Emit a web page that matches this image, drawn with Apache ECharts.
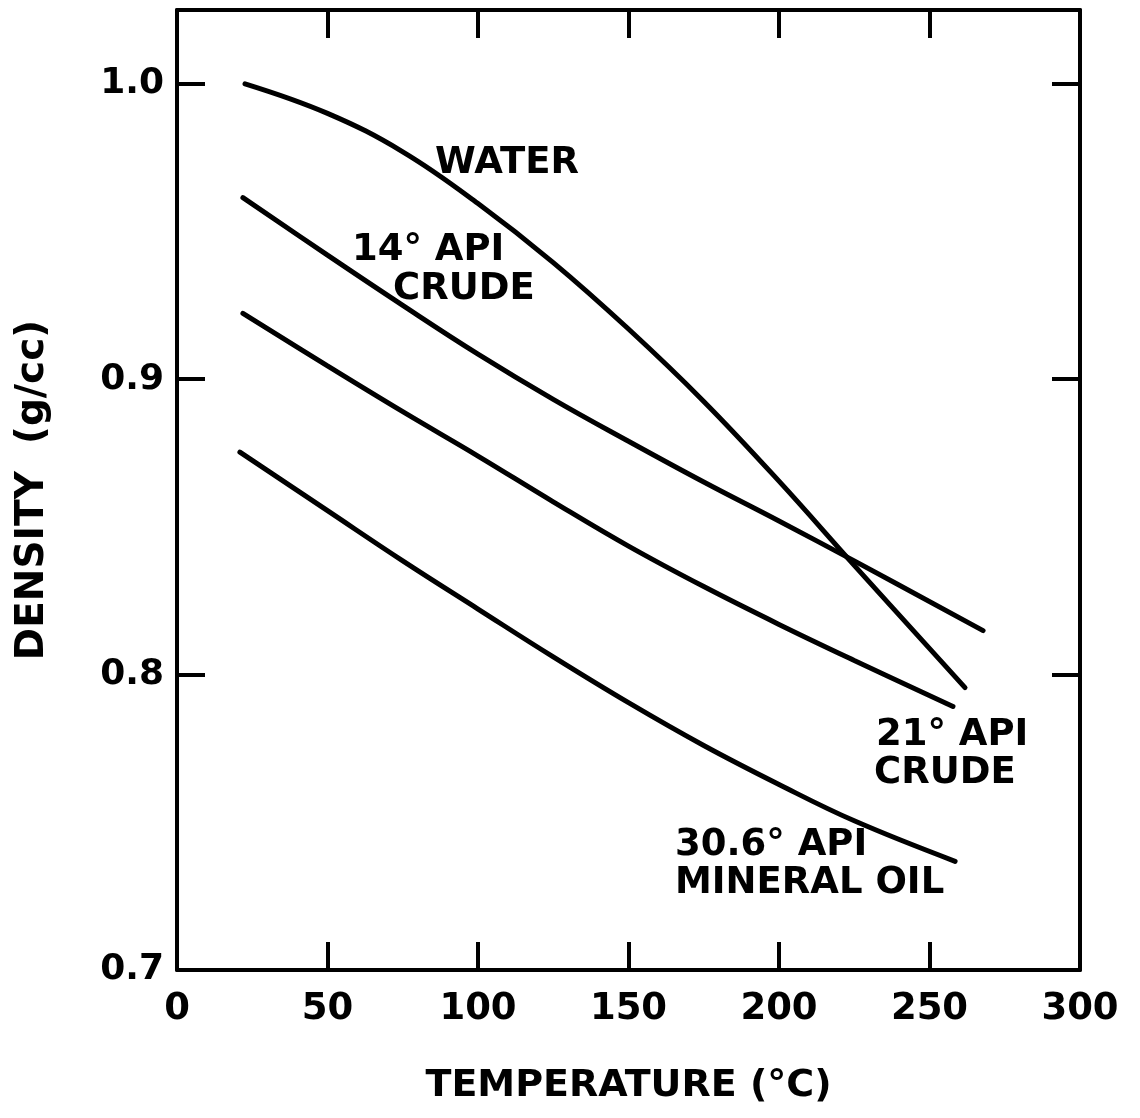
<!DOCTYPE html>
<html>
<head>
<meta charset="utf-8">
<script src="https://cdn.jsdelivr.net/npm/echarts@6/dist/echarts.min.js"></script>
<style>html,body{margin:0;padding:0;background:#fff}#c{width:1140px;height:1118px}</style>
</head>
<body>
<div id="c"></div>
<script>
// Temperature (°C) and density (g/cc)
var waterT  = [22.6, 50, 75, 100, 125, 150, 175, 200, 225, 261.8];
var waterD  = [1.000, 0.9900, 0.9770, 0.9595, 0.9395, 0.9170, 0.8925, 0.8655, 0.8370, 0.7956];

var api14T  = [21.9, 50, 75, 100, 125, 150, 175, 200, 225, 267.8];
var api14D  = [0.9615, 0.9420, 0.9250, 0.9085, 0.8932, 0.8790, 0.8652, 0.8520, 0.8385, 0.8149];

var api21T  = [21.9, 50, 75, 100, 125, 150, 175, 200, 225, 257.8];
var api21D  = [0.9223, 0.9045, 0.8890, 0.8740, 0.8585, 0.8435, 0.8298, 0.8170, 0.8048, 0.7892];

var oilT    = [20.9, 50, 75, 100, 125, 150, 175, 200, 225, 258.5];
var oilD    = [0.8753, 0.8555, 0.8385, 0.8222, 0.8060, 0.7905, 0.7760, 0.7628, 0.7505, 0.7368];

var xTicks = [0, 50, 100, 150, 200, 250, 300];
var yTicks = [0.7, 0.8, 0.9, 1.0];

function pairs(a, b) { return a.map(function (v, i) { return [v, b[i]]; }); }

var FONT = 'DejaVu Sans';
var lineW = 4;
var axisCommon = {
  axisLine: { show: true, onZero: false, lineStyle: { color: '#000', width: lineW } },
  axisTick: { show: true, inside: true, length: 28, lineStyle: { color: '#000', width: lineW } },
  splitLine: { show: false }
};

var chart = echarts.init(document.getElementById('c'), null, { renderer: 'canvas' });

function lineSeries(name, t, d) {
  return {
    name: name, type: 'line', xAxisIndex: 0, yAxisIndex: 0,
    data: pairs(t, d), smooth: 0.4, showSymbol: false, symbol: 'none',
    lineStyle: { color: '#000', width: 5, cap: 'round' }, silent: true
  };
}

function label(text, x, y) {
  return {
    type: 'text', left: x, top: y, silent: true,
    style: { text: text, fill: '#000', font: 'bold 37px "' + FONT + '"' }
  };
}

chart.setOption({
  animation: false,
  backgroundColor: '#fff',
  grid: { left: 177, right: 60, top: 10, bottom: 148, containLabel: false },
  xAxis: [
    Object.assign({}, axisCommon, {
      type: 'value', min: xTicks[0], max: xTicks[xTicks.length - 1], interval: 50, position: 'bottom',
      axisLabel: { show: true, margin: 21, color: '#000', fontFamily: FONT, fontWeight: 'bold', fontSize: 37 },
      name: 'TEMPERATURE (°C)', nameLocation: 'middle', nameGap: 97,
      nameTextStyle: { color: '#000', fontFamily: FONT, fontWeight: 'bold', fontSize: 38 }
    }),
    Object.assign({}, axisCommon, {
      type: 'value', min: xTicks[0], max: xTicks[xTicks.length - 1], interval: 50, position: 'top',
      axisLabel: { show: false }
    })
  ],
  yAxis: [
    Object.assign({}, axisCommon, {
      type: 'value', min: yTicks[0], max: 1.025, interval: 0.1, position: 'left',
      axisLabel: { show: true, margin: 13, showMaxLabel: false, color: '#000', fontFamily: FONT, fontWeight: 'bold', fontSize: 36,
        formatter: function (v) { return v.toFixed(1); } },
      name: 'DENSITY  (g/cc)', nameLocation: 'middle', nameGap: 125,
      nameTextStyle: { color: '#000', fontFamily: FONT, fontWeight: 'bold', fontSize: 39 }
    }),
    Object.assign({}, axisCommon, {
      type: 'value', min: yTicks[0], max: 1.025, interval: 0.1, position: 'right',
      axisLabel: { show: false }
    })
  ],
  series: [
    lineSeries('WATER', waterT, waterD),
    lineSeries('14° API CRUDE', api14T, api14D),
    lineSeries('21° API CRUDE', api21T, api21D),
    lineSeries('30.6° API MINERAL OIL', oilT, oilD)
  ],
  graphic: [
    label('WATER', 435, 145),
    label('14° API', 352, 232),
    label('CRUDE', 393, 271),
    label('21° API', 876, 717),
    label('CRUDE', 874, 755),
    label('30.6° API', 675, 827),
    label('MINERAL OIL', 675, 865)
  ]
});
</script>
</body>
</html>
